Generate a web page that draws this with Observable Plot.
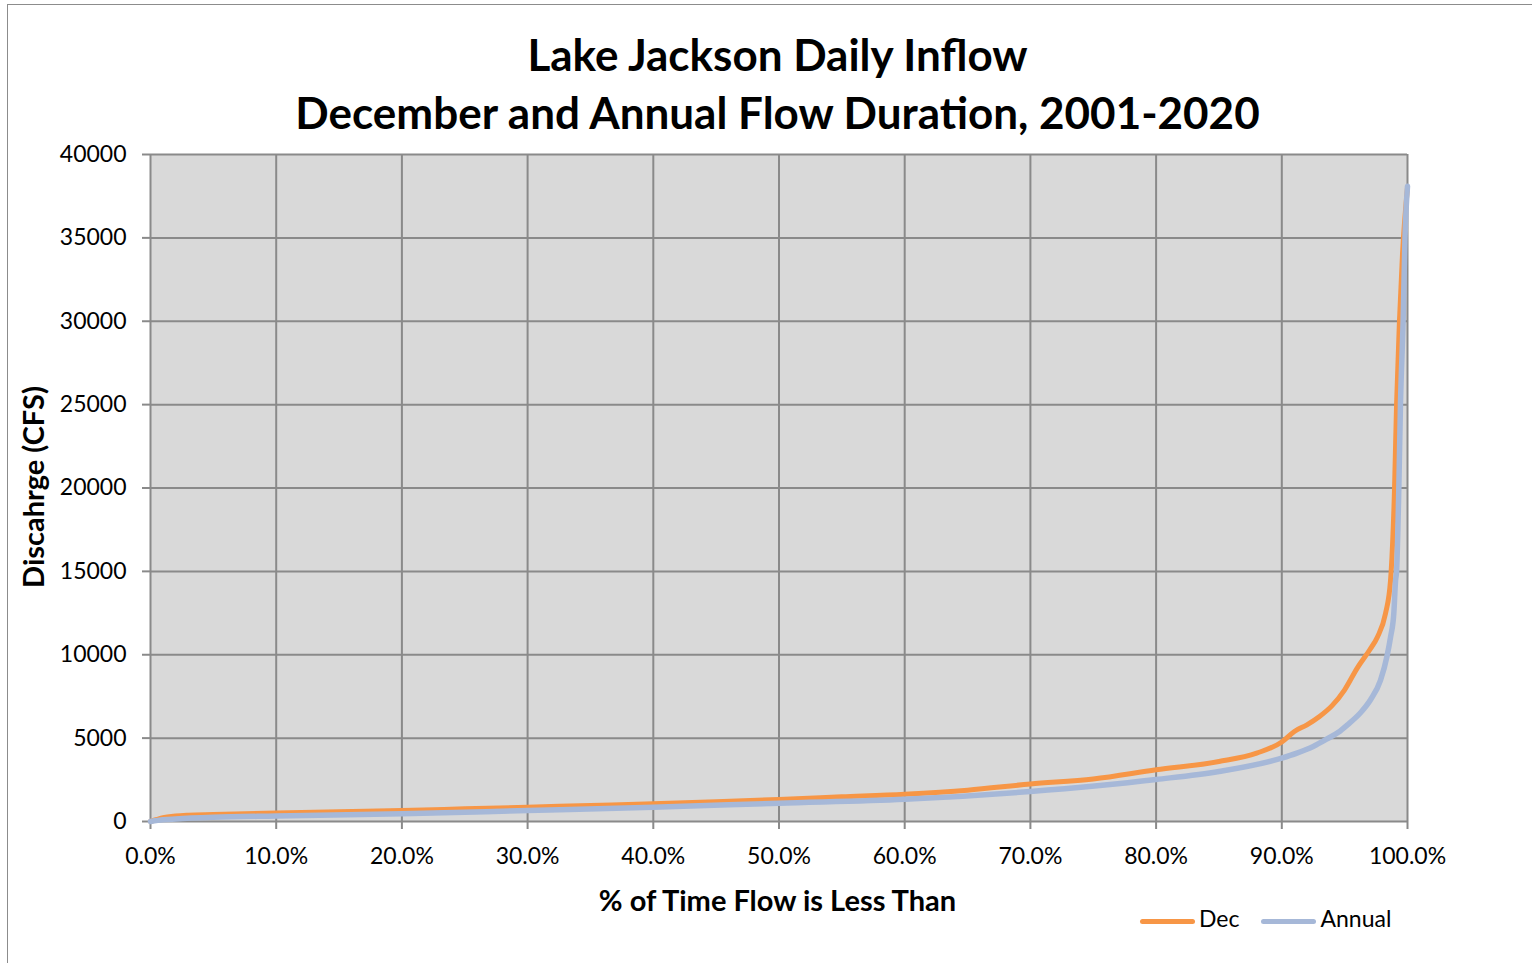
<!DOCTYPE html>
<html><head><meta charset="utf-8">
<script src="https://cdn.jsdelivr.net/npm/d3@7"></script>
<script src="https://cdn.jsdelivr.net/npm/@observablehq/plot@0.6"></script>
<style>
body{margin:0;background:#fff;font-family:Lato,"Open Sans",sans-serif;}
#wrap{position:relative;width:1532px;height:963px;overflow:hidden;background:#fff;}
#frame{position:absolute;left:7px;top:4px;width:1560px;height:1000px;border:1.5px solid #8c8c8c;box-sizing:border-box;}
.title{position:absolute;left:0;width:1555px;text-align:center;font-weight:bold;font-size:44px;line-height:50px;color:#000;white-space:nowrap;}
#xlab{position:absolute;left:0;width:1555px;top:883px;text-align:center;font-weight:bold;font-size:29px;line-height:34px;}
#ylab{position:absolute;left:33px;top:487px;transform:translate(-50%,-50%) rotate(-90deg);font-weight:bold;font-size:29px;line-height:34px;white-space:nowrap;}
#legend{position:absolute;left:1140px;top:904px;font-size:23px;line-height:28px;white-space:nowrap;}
#legend .sw{display:inline-block;width:55px;height:5px;border-radius:3px;vertical-align:middle;margin-right:4px;}
#legend .it{display:inline-block;margin-right:22px;}
#chart{position:absolute;left:0;top:0;}
</style>
</head><body>
<div id="wrap">
  <div id="frame"></div>
  <div id="chart"></div>
  <div class="title" style="top:29px">Lake Jackson Daily Inflow</div>
  <div class="title" style="top:87px">December and Annual Flow Duration, 2001-2020</div>
  <div id="xlab">% of Time Flow is Less Than</div>
  <div id="ylab">Discahrge (CFS)</div>
  <div id="legend"></div>
</div>
<script>
// ---- data ----
const seriesNames = ["Dec", "Annual"];
const seriesColors = ["#F79646", "#A6B8D8"];

const decPct = [0, 0.5, 1, 2, 3, 5, 10, 15, 20, 25, 30, 35, 40, 45, 50, 55, 60, 65, 70, 75, 80, 85, 88, 90, 91, 92, 93, 94, 95, 96, 97, 97.6, 98.25, 98.65, 98.7, 98.97, 99.13, 99.36, 99.6, 100];
const decCfs = [0, 120, 230, 330, 380, 420, 510, 590, 660, 760, 860, 960, 1060, 1180, 1320, 1480, 1640, 1880, 2250, 2550, 3100, 3600, 4100, 4770, 5400, 5800, 6300, 6950, 7900, 9200, 10300, 11050, 12470, 14450, 15000, 20000, 25000, 30000, 34000, 38000];

const annPct = [0, 1, 2, 5, 10, 20, 30, 40, 50, 60, 70, 80, 85, 90, 91.2, 92.5, 93.6, 94.5, 95.2, 96.26, 97.06, 97.85, 98.38, 98.65, 98.91, 99.05, 99.13, 99.31, 99.44, 99.65, 99.8, 100];
const annCfs = [0, 100, 150, 250, 330, 460, 660, 860, 1100, 1330, 1800, 2520, 3000, 3800, 4100, 4500, 4950, 5350, 5780, 6520, 7300, 8460, 9950, 11050, 12470, 14450, 15000, 20000, 25000, 30000, 35000, 38100];

const xTicks = [0, 10, 20, 30, 40, 50, 60, 70, 80, 90, 100];
const yTicks = [0, 5000, 10000, 15000, 20000, 25000, 30000, 35000, 40000];

// ---- build rows ----
const decRows = decPct.map((p, i) => ({series: "Dec", pct: p, cfs: decCfs[i]}));
const annRows = annPct.map((p, i) => ({series: "Annual", pct: p, cfs: annCfs[i]}));

const gridColor = "#8a8a8a";
const chart = Plot.plot({
  width: 1532,
  height: 963,
  marginLeft: 150,
  marginRight: 125,
  marginTop: 154,
  marginBottom: 142,
  style: {background: "transparent", fontFamily: "Lato, 'Open Sans', sans-serif", fontSize: "23px", color: "#000"},
  x: {domain: [0, 100]},
  y: {domain: [0, 40000]},
  marks: [
    Plot.frame({fill: "#d9d9d9", stroke: null}),
    Plot.gridX(xTicks, {stroke: gridColor, strokeOpacity: 1, strokeWidth: 2}),
    Plot.gridY(yTicks, {stroke: gridColor, strokeOpacity: 1, strokeWidth: 2}),
    Plot.axisX(xTicks, {tickSize: 8, tickPadding: 18, label: null, stroke: gridColor, strokeWidth: 2,
      tickFormat: d => d.toFixed(1) + "%", fill: "#000"}),
    Plot.axisY(yTicks, {tickSize: 8, tickPadding: 16, label: null, stroke: gridColor, strokeWidth: 2,
      tickFormat: d => String(d), fill: "#000"}),
    Plot.line(decRows, {x: "pct", y: "cfs", stroke: seriesColors[0], strokeWidth: 5, curve: "monotone-x"}),
    Plot.line(annRows, {x: "pct", y: "cfs", stroke: seriesColors[1], strokeWidth: 5.5, curve: "monotone-x"})
  ]
});
document.getElementById("chart").appendChild(chart);

const leg = document.getElementById("legend");
seriesNames.forEach((n, i) => {
  const it = document.createElement("span");
  it.className = "it";
  it.innerHTML = `<span class="sw" style="background:${seriesColors[i]}"></span>${n}`;
  leg.appendChild(it);
});
</script>
</body></html>
